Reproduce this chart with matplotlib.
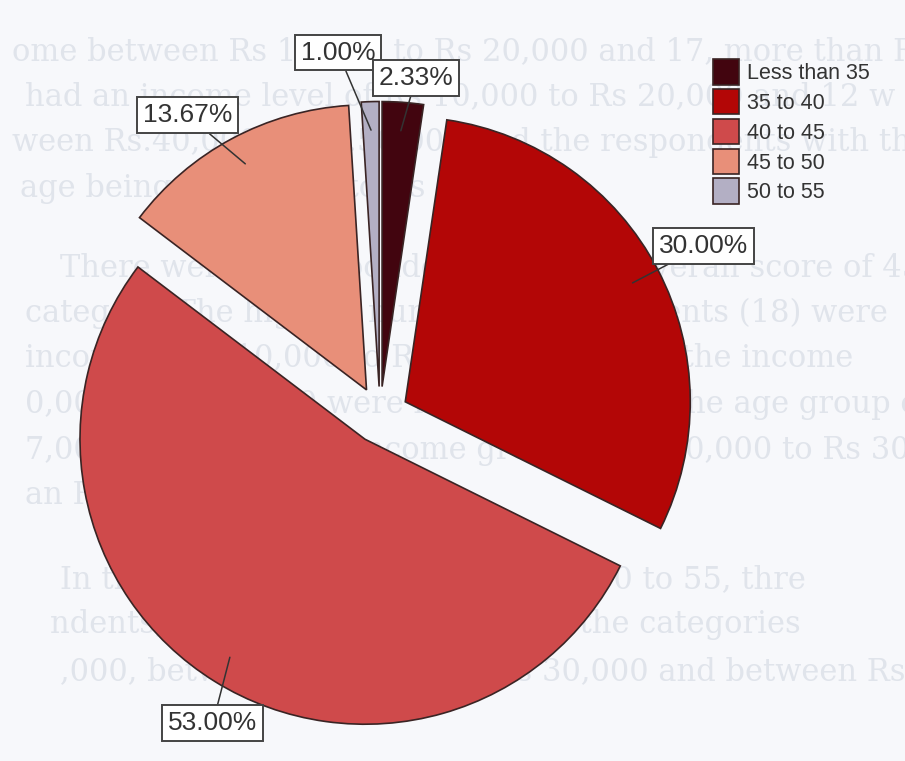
import numpy as np
import matplotlib.pyplot as plt

plt.rcParams['font.family'] = ['Liberation Sans', 'DejaVu Sans']

# age groups of respondents and their share (%)
categories = ['Less than 35', '35 to 40', '40 to 45', '45 to 50', '50 to 55']
shares = [2.33, 30.00, 53.00, 13.67, 1.00]
colors = ['#42050f', '#b30606', '#cf4a4b', '#e88f79', '#b3afc4']

# faint lines of the printed page behind the chart
page_lines = [
    'ome between Rs 10,000 to Rs 20,000 and 17, more than Rs',
    'had an income level of Rs 10,000 to Rs 20,000 and 12 w',
    'ween Rs.40,000 to Rs.50,000 and the respondents with the',
    'age being Rs 10,000 to Rs 20,000.',
    'There were 41 respondents with the overall score of 45 to',
    'category. The highest number of respondents (18) were',
    'income of Rs 10,000 to Rs 20,000, 12 had the income',
    '0,000 to Rs 30,000 were in the income in the age group of R',
    '7,000 and two in the income group of Rs 20,000 to Rs 30,0',
    'an Rs 40,000 or more.',
    'In the category of overall score of 50 to 55, thre',
    'ndents, one each of them fell into the categories',
    ',000, between Rs 20,000 to Rs 30,000 and between Rs',
]
line_x = [12, 25, 12, 20, 60, 25, 25, 25, 25, 25, 60, 50, 60]
line_y = [52, 97, 143, 188, 268, 313, 358, 405, 450, 495, 580, 625, 672]

W, H = 905, 761
fig = plt.figure(figsize=(W / 100, H / 100), dpi=100, facecolor='#f7f8fb')
ax = fig.add_axes([0, 0, 1, 1])
ax.set_facecolor('none')

for s, x, y in zip(page_lines, line_x, line_y):
    ax.text(x / W, 1 - y / H, s, transform=ax.transAxes, family='DejaVu Serif',
            fontsize=22, color='#e0e4eb', va='center', ha='left', zorder=0)

wedges, _ = ax.pie(shares, explode=[0.1] * len(shares), colors=colors,
                   startangle=90, counterclock=False,
                   wedgeprops=dict(edgecolor='#3a2424', linewidth=1.2))

# pie centre at (380, 415) px, radius 285 px
cx, cy, r = 380, 415, 285
ax.set_xlim(-cx / r, (W - cx) / r)
ax.set_ylim(-(H - cy) / r, cy / r)
ax.set_aspect('auto')
ax.axis('off')

# boxed percentage labels with leader lines
mid = (np.cumsum(shares) - np.array(shares) / 2) / 100 * 360
label_r = [1.19, 1.28, 1.23, 1.25, 1.28]
label_shift = [1.9, 0, -3.3, -4.5, -4.8]
for i, v in enumerate(shares):
    t = np.radians(mid[i])
    tl = np.radians(mid[i] + label_shift[i])
    ax.annotate(f'{v:.2f}%', xy=(np.sin(t), np.cos(t)),
                xytext=(label_r[i] * np.sin(tl), label_r[i] * np.cos(tl)),
                ha='center', va='center', fontsize=19, color='#333333',
                bbox=dict(boxstyle='square,pad=0.22', fc='white', ec='#444444', lw=1.4),
                arrowprops=dict(arrowstyle='-', color='#333333', lw=1.1,
                                shrinkA=0, shrinkB=0),
                zorder=6 if i == 0 else 5)

ax.legend(wedges, categories, loc='upper left',
          bbox_to_anchor=(713 / W, 1 - 59 / H), bbox_transform=fig.transFigure,
          frameon=False, fontsize=15.5, handlelength=1.2, handleheight=1.45,
          handletextpad=0.4, labelspacing=0.2, borderpad=0, borderaxespad=0,
          labelcolor='#333333')

fig.savefig('out.png', dpi=100, facecolor=fig.get_facecolor())
